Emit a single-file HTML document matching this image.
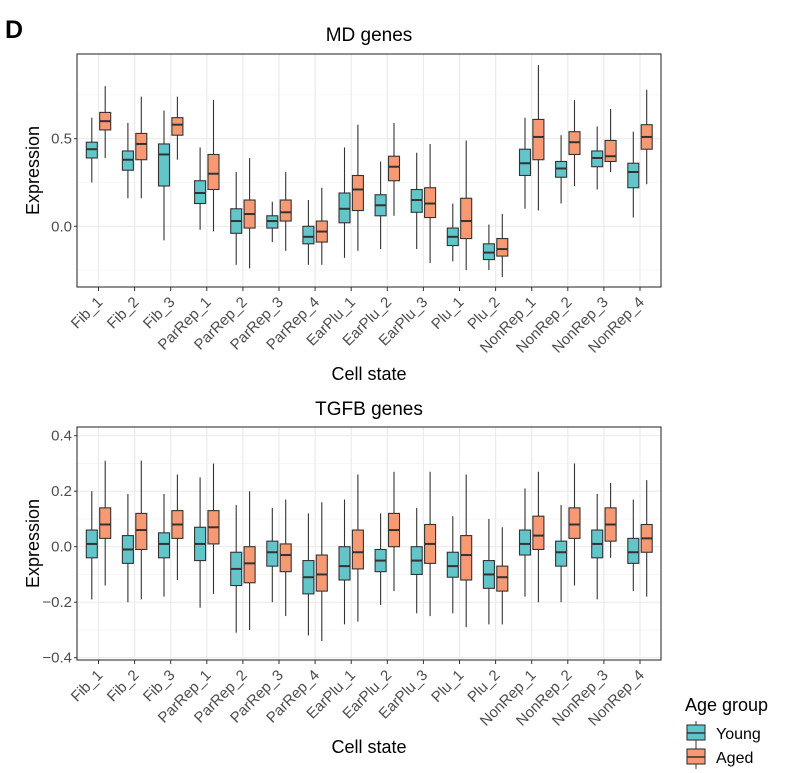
<!DOCTYPE html>
<html><head><meta charset="utf-8"><style>
html,body{margin:0;padding:0;background:#fff;}
svg{display:block;font-family:"Liberation Sans",Arial,sans-serif;}
</style></head><body>
<svg id="s" width="788" height="773" viewBox="0 0 788 773" xmlns="http://www.w3.org/2000/svg">
<text x="5" y="38" font-size="25" font-weight="bold" fill="#000">D</text>
</svg>
<script>
(function(){
var NS="http://www.w3.org/2000/svg",s=document.getElementById('s');
function el(t,a,txt){var e=document.createElementNS(NS,t);for(var k in a)e.setAttribute(k,a[k]);if(txt!=null)e.textContent=txt;s.appendChild(e);return e;}
var cats=["Fib_1","Fib_2","Fib_3","ParRep_1","ParRep_2","ParRep_3","ParRep_4","EarPlu_1","EarPlu_2","EarPlu_3","Plu_1","Plu_2","NonRep_1","NonRep_2","NonRep_3","NonRep_4"];
var X0=77,X1=661;
function cx(i){return 98.5+36.1*i;}
var topD=[
[[.62,.48,.44,.39,.25],[.80,.65,.60,.55,.39]],
[[.59,.43,.38,.32,.16],[.74,.53,.47,.38,.16]],
[[.66,.47,.41,.23,-.08],[.74,.62,.58,.52,.38]],
[[.45,.26,.19,.13,-.02],[.72,.41,.30,.21,-.03]],
[[.31,.10,.03,-.04,-.22],[.39,.15,.07,-.01,-.24]],
[[.14,.06,.03,-.01,-.09],[.31,.15,.08,.03,-.14]],
[[.15,0,-.06,-.10,-.22],[.22,.03,-.03,-.09,-.22]],
[[.45,.19,.10,.02,-.18],[.58,.29,.21,.09,-.14]],
[[.37,.18,.12,.06,-.13],[.59,.40,.34,.26,.06]],
[[.42,.21,.15,.08,-.13],[.47,.22,.13,.05,-.21]],
[[.13,-.01,-.06,-.11,-.20],[.49,.16,.03,-.07,-.25]],
[[.01,-.10,-.15,-.19,-.25],[.07,-.07,-.13,-.17,-.29]],
[[.62,.44,.36,.29,.10],[.92,.61,.51,.38,.09]],
[[.52,.37,.33,.28,.13],[.72,.54,.48,.41,.23]],
[[.57,.43,.39,.34,.21],[.67,.49,.40,.37,.31]],
[[.54,.36,.31,.22,.05],[.78,.58,.51,.44,.24]]];
var botD=[
[[.20,.06,.01,-.04,-.19],[.31,.14,.08,.03,-.14]],
[[.19,.04,-.01,-.06,-.20],[.31,.12,.06,-.01,-.19]],
[[.19,.05,.01,-.04,-.18],[.26,.13,.08,.03,-.12]],
[[.25,.07,.01,-.05,-.22],[.30,.13,.07,.01,-.17]],
[[.15,-.02,-.08,-.14,-.31],[.20,0,-.06,-.13,-.30]],
[[.14,.02,-.02,-.07,-.20],[.17,.01,-.03,-.09,-.25]],
[[.12,-.05,-.11,-.17,-.32],[.16,-.03,-.10,-.16,-.34]],
[[.17,0,-.07,-.12,-.28],[.26,.06,-.02,-.08,-.27]],
[[.12,-.01,-.05,-.09,-.21],[.27,.12,.06,0,-.16]],
[[.14,0,-.05,-.10,-.24],[.27,.08,.01,-.06,-.25]],
[[.11,-.02,-.07,-.11,-.24],[.26,.04,-.03,-.12,-.29]],
[[.10,-.05,-.10,-.15,-.28],[.07,-.07,-.11,-.16,-.28]],
[[.21,.06,.01,-.03,-.18],[.27,.11,.04,-.01,-.20]],
[[.15,.02,-.02,-.07,-.20],[.30,.14,.08,.03,-.14]],
[[.19,.06,.01,-.04,-.19],[.23,.14,.08,.02,-.04]],
[[.17,.03,-.02,-.06,-.16],[.24,.08,.03,-.02,-.18]]];
function panel(Y0,Y1,y,major,minor,labs,data,title,titleY){
  minor.forEach(function(v){el('line',{x1:X0,x2:X1,y1:y(v),y2:y(v),stroke:'#f4f4f4','stroke-width':0.8});});
  major.forEach(function(v){el('line',{x1:X0,x2:X1,y1:y(v),y2:y(v),stroke:'#ebebeb','stroke-width':1.2});});
  cats.forEach(function(c,i){el('line',{x1:cx(i),x2:cx(i),y1:Y0,y2:Y1,stroke:'#ebebeb','stroke-width':1.2});});
  data.forEach(function(d,i){
    [[d[0],-6.7,'#62c5ca'],[d[1],6.7,'#f79a74']].forEach(function(b){
      var v=b[0],x=cx(i)+b[1];
      el('line',{x1:x,x2:x,y1:y(v[0]),y2:y(v[4]),stroke:'#333','stroke-width':1.1});
      el('rect',{x:x-5.5,y:y(v[1]),width:11,height:y(v[3])-y(v[1]),fill:b[2],stroke:'#333','stroke-width':1.1});
      el('line',{x1:x-5.5,x2:x+5.5,y1:y(v[2]),y2:y(v[2]),stroke:'#333','stroke-width':2});
    });
  });
  el('rect',{x:X0,y:Y0,width:X1-X0,height:Y1-Y0,fill:'none',stroke:'#333','stroke-width':1.1});
  major.forEach(function(v,k){el('line',{x1:X0-3,x2:X0,y1:y(v),y2:y(v),stroke:'#333'});
    el('text',{x:X0-5,y:y(v)+5,'text-anchor':'end','font-size':15,fill:'#4d4d4d'},labs[k]);});
  cats.forEach(function(c,i){var x=cx(i);
    el('line',{x1:x,x2:x,y1:Y1,y2:Y1+4,stroke:'#333'});
    el('text',{x:x+5,y:Y1+16,'text-anchor':'end','font-size':15,fill:'#4d4d4d',transform:'rotate(-45 '+(x+5)+' '+(Y1+16)+')'},c);});
  el('text',{x:(X0+X1)/2,y:titleY,'text-anchor':'middle','font-size':19,fill:'#000'},title);
  el('text',{x:39,y:(Y0+Y1)/2,'text-anchor':'middle','font-size':18,fill:'#000',transform:'rotate(-90 39 '+((Y0+Y1)/2)+')'},'Expression');
}
panel(54,287,function(v){return 226.3-175.2*v;},[0,0.5],[-0.25,0.25,0.75],['0.0','0.5'],topD,'MD genes',41);
el('text',{x:369,y:380,'text-anchor':'middle','font-size':18,fill:'#000'},'Cell state');
panel(427,660,function(v){return 546.7-277.5*v;},[-0.4,-0.2,0,0.2,0.4],[-0.3,-0.1,0.1,0.3],['\u22120.4','\u22120.2','0.0','0.2','0.4'],botD,'TGFB genes',415);
el('text',{x:369,y:753,'text-anchor':'middle','font-size':18,fill:'#000'},'Cell state');
el('text',{x:685,y:711,'font-size':18,fill:'#000'},'Age group');
[['Young','#62c5ca',733],['Aged','#f79a74',757]].forEach(function(l){
  var y=l[2];
  el('line',{x1:696,x2:696,y1:y-12,y2:y+12,stroke:'#333','stroke-width':1});
  el('rect',{x:687,y:y-8,width:18,height:15,fill:l[1],stroke:'#333','stroke-width':1.1});
  el('line',{x1:687,x2:705,y1:y,y2:y,stroke:'#333','stroke-width':1.6});
  el('text',{x:716,y:y+6,'font-size':16,fill:'#000'},l[0]);
});
})();
</script>
</body></html>
